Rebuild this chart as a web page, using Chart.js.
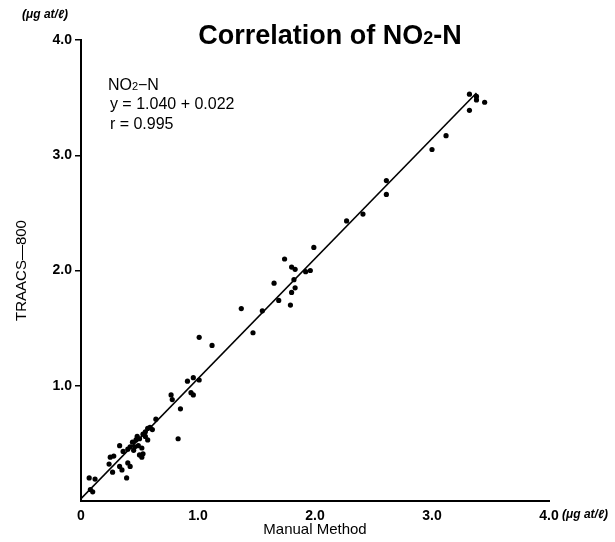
<!DOCTYPE html>
<html>
<head>
<meta charset="utf-8">
<script src="https://cdn.jsdelivr.net/npm/chart.js@4/dist/chart.umd.min.js"></script>
<style>
    html, body { margin: 0; padding: 0; background: #fff; }
    #wrap { width: 615px; height: 542px; position: relative; }
</style>
</head>
<body>
<div id="wrap"><canvas id="corrChart"></canvas></div>
<script>
/* global Chart */

// Manual method (x) vs TRAACS-800 (y), ug at/l
const manualX = [
    0.07, 0.12, 0.08, 0.10, 0.27, 0.24, 0.25, 0.28, 0.33, 0.33,
    0.35, 0.36, 0.39, 0.40, 0.42, 0.42, 0.44, 0.46, 0.47, 0.50,
    0.49, 0.52, 0.50, 0.53, 0.52, 0.53, 0.55, 0.57, 0.57, 0.59,
    0.55, 0.64, 0.83, 0.85, 0.77, 0.78, 0.91, 0.96, 1.01, 0.94,
    0.96, 0.45, 0.48, 0.61, 0.40,
    1.01, 1.12, 1.37, 1.47, 1.55, 1.65, 1.69, 1.74, 1.80, 1.83,
    1.82, 1.83, 1.80, 1.79, 1.92, 1.96, 1.99, 2.27, 2.41, 2.61,
    2.61, 3.00, 3.12, 3.32, 3.38, 3.38, 3.45, 3.32
];
const traacsY = [
    0.20, 0.19, 0.10, 0.08, 0.25, 0.32, 0.38, 0.39, 0.48, 0.30,
    0.27, 0.43, 0.20, 0.33, 0.30, 0.47, 0.51, 0.47, 0.53, 0.54,
    0.48, 0.46, 0.40, 0.41, 0.38, 0.58, 0.60, 0.53, 0.63, 0.64,
    0.56, 0.71, 0.54, 0.80, 0.92, 0.88, 1.04, 1.07, 1.05, 0.94,
    0.92, 0.44, 0.56, 0.62, 0.45,
    1.42, 1.35, 1.67, 1.46, 1.65, 1.89, 1.74, 2.10, 2.03, 2.01,
    1.92, 1.85, 1.81, 1.70, 1.99, 2.00, 2.20, 2.43, 2.49, 2.78,
    2.66, 3.05, 3.17, 3.53, 3.51, 3.48, 3.46, 3.39
];

// regression line end points
const fitX = [0.0, 3.38];
const fitY = [0.02, 3.54];

const tickLabels = ['0', '1.0', '2.0', '3.0', '4.0'];
const unitText = '(\u03bcg at/\u2113)';
const annotationLines = ['y = 1.040 + 0.022', 'r = 0.995'];

const FONT = '"Liberation Sans", Arial, Helvetica, sans-serif';

function toPoints(xs, ys) {
    return xs.map((x, i) => ({ x, y: ys[i] }));
}

// text that Chart.js has no place for: title, units, fit notes
const extraText = {
    id: 'extraText',
    afterDraw(chart) {
        const { ctx, scales } = chart;
        const xScale = scales.x;
        const yScale = scales.y;
        ctx.save();
        ctx.fillStyle = '#000';
        ctx.textBaseline = 'alphabetic';

        // title with small "2"
        drawSubscripted(ctx, 'Correlation of NO', '2', '-N', 330, 44, 'bold 27px ' + FONT, 'bold 18px ' + FONT, true);

        // units
        ctx.font = 'italic bold 12px ' + FONT;
        ctx.textAlign = 'left';
        ctx.fillText(unitText, 22, 18);
        ctx.textBaseline = 'middle';
        ctx.fillText(unitText, xScale.getPixelForValue(4) + 13, 515);

        // regression notes
        ctx.textBaseline = 'alphabetic';
        const left = xScale.getPixelForValue(0.23);
        drawSubscripted(ctx, 'NO', '2', '\u2212N', left, yScale.getPixelForValue(3.57), '16px ' + FONT, '11px ' + FONT, false);
        ctx.font = '16px ' + FONT;
        ctx.textAlign = 'left';
        ctx.fillText(annotationLines[0], left + 2, yScale.getPixelForValue(3.40));
        ctx.fillText(annotationLines[1], left + 2, yScale.getPixelForValue(3.23));
        ctx.restore();
    }
};

function drawSubscripted(ctx, before, sub, after, x, y, bigFont, smallFont, centered) {
    ctx.font = bigFont;
    const w1 = ctx.measureText(before).width;
    const w3 = ctx.measureText(after).width;
    ctx.font = smallFont;
    const w2 = ctx.measureText(sub).width;
    let start = x;
    if (centered) start = x - (w1 + w2 + w3) / 2;
    ctx.textAlign = 'left';
    ctx.font = bigFont;
    ctx.fillText(before, start, y);
    ctx.font = smallFont;
    ctx.fillText(sub, start + w1, y);
    ctx.font = bigFont;
    ctx.fillText(after, start + w1 + w2, y);
}

document.addEventListener('DOMContentLoaded', () => {
    const ctx = document.getElementById('corrChart');
    new Chart(ctx, {
        type: 'scatter',
        data: {
            datasets: [
                {
                    label: 'NO2-N',
                    data: toPoints(manualX, traacsY),
                    backgroundColor: '#000',
                    borderColor: '#000',
                    pointRadius: 2.6,
                    pointHoverRadius: 2.6,
                    borderWidth: 0
                },
                {
                    type: 'line',
                    label: 'fit',
                    data: toPoints(fitX, fitY),
                    borderColor: '#000',
                    borderWidth: 1.6,
                    pointRadius: 0,
                    fill: false
                }
            ]
        },
        options: {
            responsive: true,
            maintainAspectRatio: false,
            animation: false,
            layout: {
                padding: { top: 40, right: 66, bottom: 0, left: 0 }
            },
            plugins: {
                legend: { display: false },
                tooltip: { enabled: false },
                title: { display: false }
            },
            scales: {
                x: {
                    type: 'linear',
                    min: 0,
                    max: 4,
                    afterFit(scale) { scale.height = 41; },
                    ticks: {
                        stepSize: 1,
                        padding: 7,
                        color: '#000',
                        font: { family: FONT, size: 14, weight: 'bold' },
                        callback: value => tickLabels[value] || ''
                    },
                    grid: { display: false, drawTicks: false },
                    border: { display: true, color: '#000', width: 2 },
                    title: {
                        display: true,
                        text: 'Manual Method',
                        color: '#000',
                        font: { family: FONT, size: 15 },
                        padding: { top: 0, bottom: 3 }
                    }
                },
                y: {
                    type: 'linear',
                    min: 0,
                    max: 4,
                    afterFit(scale) { scale.width = 81; },
                    ticks: {
                        stepSize: 1,
                        padding: 3,
                        color: '#000',
                        font: { family: FONT, size: 14, weight: 'bold' },
                        callback: value => (value === 0 ? '' : tickLabels[value])
                    },
                    grid: {
                        drawOnChartArea: false,
                        tickLength: 6,
                        lineWidth: 1.5,
                        color: c => (c.tick && c.tick.value === 0 ? 'rgba(0,0,0,0)' : '#000')
                    },
                    border: { display: true, color: '#000', width: 2 },
                    title: {
                        display: true,
                        text: 'TRAACS\u2014800',
                        color: '#000',
                        font: { family: FONT, size: 15 },
                        padding: { top: 13, bottom: 0 }
                    }
                }
            }
        },
        plugins: [extraText]
    });
});
</script>
</body>
</html>
